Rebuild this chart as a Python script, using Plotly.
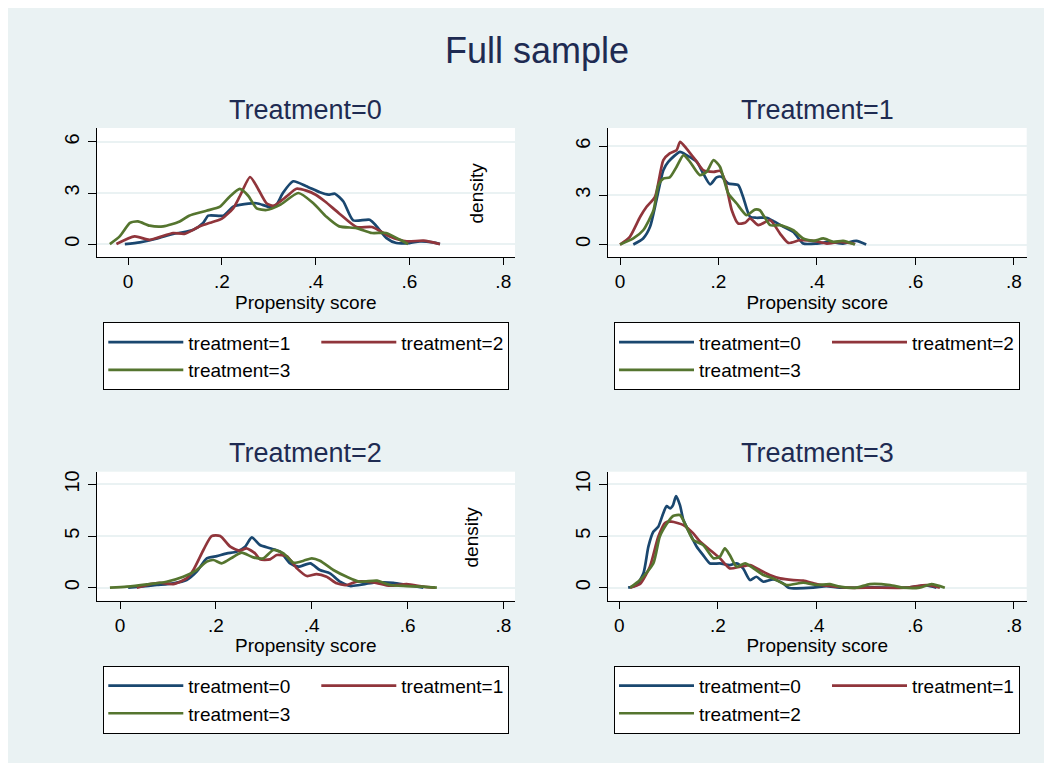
import plotly.graph_objects as go

FONT = "Liberation Sans, Arial, Helvetica, sans-serif"
NAVY = "#1a476f"
MAROON = "#90353b"
GREEN = "#55752f"
BG = "#eaf2f3"
TITLE_C = "#1e2b52"

main_title = "Full sample"
panel_titles = ["Treatment=0", "Treatment=1", "Treatment=2", "Treatment=3"]
x_title = "Propensity score"
y_title = "density"
x_tickvals = [0, 0.2, 0.4, 0.6, 0.8]
x_ticktext = ["0", ".2", ".4", ".6", ".8"]
y_tickvals_top = [0, 3, 6]
y_tickvals_bottom = [0, 5, 10]

# ---------------- Panel: Treatment=0 ----------------
p0_labels = ["treatment=1", "treatment=2", "treatment=3"]
p0_a_x = [-0.007, 0.025, 0.06, 0.096, 0.117, 0.139, 0.16, 0.171, 0.203, 0.224, 0.238, 0.274, 0.302, 0.316, 0.33, 0.352, 0.38, 0.409, 0.427, 0.441, 0.459, 0.48, 0.515, 0.53, 0.551, 0.572, 0.6, 0.622, 0.65, 0.665]
p0_a_y = [0, 0.1, 0.31, 0.6, 0.69, 0.84, 1.24, 1.67, 1.67, 2.2, 2.3, 2.4, 2.18, 2.3, 3.0, 3.69, 3.4, 3.04, 2.9, 2.96, 2.5, 1.39, 1.43, 1.04, 0.35, 0.06, 0.06, 0.16, 0.1, 0]
p0_b_x = [-0.025, 0.014, 0.046, 0.096, 0.12, 0.153, 0.18, 0.2, 0.224, 0.238, 0.26, 0.274, 0.295, 0.31, 0.338, 0.359, 0.38, 0.4, 0.42, 0.45, 0.487, 0.52, 0.558, 0.594, 0.63, 0.665]
p0_b_y = [0, 0.45, 0.25, 0.65, 0.6, 1.04, 1.3, 1.5, 2.1, 2.8, 3.94, 3.4, 2.4, 2.25, 2.8, 3.25, 3.14, 2.9, 2.5, 1.8, 1.0, 1.0, 0.45, 0.16, 0.2, 0]
p0_c_x = [-0.039, -0.018, 0.004, 0.021, 0.046, 0.075, 0.11, 0.13, 0.167, 0.196, 0.217, 0.238, 0.256, 0.274, 0.295, 0.324, 0.363, 0.395, 0.423, 0.45, 0.487, 0.52, 0.55, 0.58, 0.597]
p0_c_y = [0, 0.45, 1.24, 1.33, 1.08, 1.04, 1.33, 1.67, 1.96, 2.2, 2.8, 3.24, 2.84, 2.1, 2.0, 2.3, 3.0, 2.4, 1.6, 1.04, 0.94, 0.65, 0.65, 0.25, 0]

# ---------------- Panel: Treatment=1 ----------------
p1_labels = ["treatment=0", "treatment=2", "treatment=3"]
p1_a_x = [0.027, 0.047, 0.061, 0.074, 0.088, 0.098, 0.122, 0.135, 0.156, 0.169, 0.183, 0.196, 0.206, 0.22, 0.24, 0.25, 0.264, 0.277, 0.298, 0.311, 0.332, 0.352, 0.372, 0.4, 0.426, 0.453, 0.48, 0.5]
p1_a_y = [0, 0.37, 1.08, 2.7, 4.53, 5.04, 5.65, 5.45, 5.04, 4.33, 3.66, 4.09, 4.13, 3.72, 3.62, 2.9, 1.69, 1.63, 1.63, 1.44, 1.08, 0.77, 0.06, 0.06, 0.16, 0.06, 0.22, 0]
p1_b_x = [0.0, 0.02, 0.041, 0.054, 0.071, 0.088, 0.101, 0.115, 0.122, 0.135, 0.156, 0.169, 0.19, 0.203, 0.213, 0.227, 0.24, 0.254, 0.264, 0.281, 0.305, 0.325, 0.342, 0.365, 0.393, 0.42, 0.447, 0.474, 0.477]
p1_b_y = [0, 0.47, 1.69, 2.3, 2.9, 5.14, 5.55, 5.75, 6.26, 5.85, 5.04, 4.53, 4.43, 4.49, 3.92, 2.09, 1.28, 1.32, 1.59, 1.18, 1.48, 0.67, 0.1, 0.26, 0.22, 0.06, 0.16, 0.06, 0]
p1_c_x = [0.0, 0.027, 0.047, 0.068, 0.078, 0.088, 0.101, 0.115, 0.129, 0.142, 0.162, 0.176, 0.19, 0.203, 0.22, 0.237, 0.257, 0.274, 0.284, 0.305, 0.325, 0.352, 0.372, 0.393, 0.413, 0.433, 0.453, 0.477]
p1_c_y = [0, 0.37, 0.87, 2.09, 3.62, 4.02, 4.09, 4.74, 5.45, 5.04, 4.23, 4.43, 5.14, 4.74, 3.11, 2.5, 1.79, 2.13, 2.09, 1.18, 1.18, 0.87, 0.37, 0.22, 0.37, 0.16, 0.22, 0]

# ---------------- Panel: Treatment=2 ----------------
p2_labels = ["treatment=0", "treatment=1", "treatment=3"]
p2_a_x = [0.017, 0.042, 0.077, 0.111, 0.139, 0.16, 0.181, 0.202, 0.223, 0.243, 0.261, 0.275, 0.292, 0.313, 0.334, 0.355, 0.372, 0.397, 0.417, 0.438, 0.459, 0.48, 0.5, 0.529, 0.57, 0.598, 0.633]
p2_a_y = [0, 0.1, 0.26, 0.42, 0.74, 1.55, 2.84, 3.06, 3.32, 3.48, 3.97, 4.87, 4.13, 3.81, 3.48, 2.35, 2.03, 2.35, 1.71, 1.39, 0.58, 0.16, 0.26, 0.48, 0.48, 0.26, 0]
p2_b_x = [0.035, 0.063, 0.083, 0.111, 0.139, 0.153, 0.174, 0.191, 0.209, 0.23, 0.25, 0.264, 0.282, 0.292, 0.313, 0.327, 0.348, 0.369, 0.39, 0.41, 0.431, 0.452, 0.473, 0.494, 0.529, 0.563, 0.598, 0.633, 0.657]
p2_b_y = [0, 0.35, 0.48, 0.35, 0.9, 1.71, 3.65, 5.0, 5.0, 3.97, 3.58, 3.81, 3.32, 2.74, 2.74, 3.16, 3.06, 1.87, 1.13, 1.32, 1.06, 0.42, 0.26, 0.58, 0.52, 0.19, 0.35, 0.1, 0]
p2_c_x = [-0.021, 0.014, 0.056, 0.097, 0.132, 0.16, 0.181, 0.195, 0.212, 0.237, 0.254, 0.278, 0.299, 0.32, 0.341, 0.362, 0.383, 0.4, 0.417, 0.445, 0.473, 0.5, 0.536, 0.563, 0.598, 0.633, 0.661]
p2_c_y = [0, 0.1, 0.32, 0.58, 1.06, 1.71, 2.52, 2.68, 2.35, 3.0, 3.39, 2.94, 2.84, 3.65, 3.32, 2.42, 2.61, 2.84, 2.61, 1.71, 1.06, 0.58, 0.68, 0.26, 0.16, 0.1, 0]

# ---------------- Panel: Treatment=3 ----------------
p3_labels = ["treatment=0", "treatment=1", "treatment=2"]
p3_a_x = [0.018, 0.035, 0.049, 0.059, 0.069, 0.079, 0.089, 0.096, 0.103, 0.109, 0.115, 0.123, 0.13, 0.143, 0.157, 0.17, 0.184, 0.204, 0.224, 0.238, 0.251, 0.265, 0.278, 0.292, 0.312, 0.332, 0.343, 0.393, 0.42, 0.447, 0.515, 0.582, 0.623, 0.643]
p3_a_y = [0, 0.26, 1.39, 3.97, 5.42, 5.9, 7.19, 7.9, 7.68, 8.0, 8.87, 8.0, 6.55, 5.26, 3.97, 3.16, 2.35, 2.35, 2.19, 2.35, 1.87, 0.74, 1.06, 0.58, 0.81, 0.42, 0, 0, 0.16, 0, 0.03, 0, 0.23, 0]
p3_b_x = [0.022, 0.042, 0.062, 0.079, 0.093, 0.106, 0.13, 0.15, 0.164, 0.184, 0.204, 0.224, 0.245, 0.265, 0.285, 0.305, 0.326, 0.353, 0.373, 0.4, 0.427, 0.461, 0.515, 0.582, 0.623, 0.65]
p3_b_y = [0, 0.35, 2.03, 4.94, 6.29, 6.39, 6.06, 5.26, 4.45, 3.65, 2.84, 1.87, 2.03, 2.19, 1.71, 1.23, 0.9, 0.74, 0.68, 0.35, 0.16, 0, 0, 0, 0.26, 0]
p3_c_x = [0.022, 0.042, 0.069, 0.082, 0.096, 0.109, 0.123, 0.136, 0.15, 0.17, 0.191, 0.204, 0.214, 0.224, 0.238, 0.255, 0.272, 0.292, 0.312, 0.339, 0.373, 0.4, 0.427, 0.447, 0.481, 0.508, 0.549, 0.576, 0.609, 0.633, 0.66]
p3_c_y = [0, 0.74, 2.35, 4.94, 6.16, 6.94, 7.03, 5.9, 4.61, 4.13, 2.84, 3.0, 3.81, 3.16, 2.03, 2.35, 1.87, 1.23, 0.9, 0.26, 0.48, 0.26, 0.35, 0.1, 0, 0.35, 0.26, 0, 0, 0.35, 0]

panels = [
    dict(labels=p0_labels, xs=[p0_a_x, p0_b_x, p0_c_x], ys=[p0_a_y, p0_b_y, p0_c_y]),
    dict(labels=p1_labels, xs=[p1_a_x, p1_b_x, p1_c_x], ys=[p1_a_y, p1_b_y, p1_c_y]),
    dict(labels=p2_labels, xs=[p2_a_x, p2_b_x, p2_c_x], ys=[p2_a_y, p2_b_y, p2_c_y]),
    dict(labels=p3_labels, xs=[p3_a_x, p3_b_x, p3_c_x], ys=[p3_a_y, p3_b_y, p3_c_y]),
]

# ---------------- layout geometry (screen pixels; page has an 8px body margin) ----------------
W, H = 1036, 755
OFF = 8
px_x = lambda p: (p - OFF) / W
px_y = lambda p: 1 - (p - OFF) / H

x_domains = [(96.7, 515.0), (607.7, 1026.7), (96.7, 515.0), (607.7, 1026.7)]
y_domains = [(128.0, 257.0), (128.0, 257.0), (471.7, 600.7), (471.7, 600.7)]
x_ranges = [[-0.067, 0.825], [-0.025, 0.826], [-0.0486, 0.824], [-0.0235, 0.826]]
y_ranges = [[-0.76, 6.82], [-0.76, 7.1], [-1.26, 11.23], [-1.26, 11.23]]
y_ticks = [y_tickvals_top, y_tickvals_top, y_tickvals_bottom, y_tickvals_bottom]
legend_pos = [(103.3, 322.3), (614.0, 322.3), (103.3, 665.7), (614.0, 665.7)]
title_y = [110, 110, 453, 453]
density_pos = [(475.5, 193.0), (470.5, 537.0)]

colors = [NAVY, MAROON, GREEN]
groups = ["a", "b", "a"]

fig = go.Figure()
layout = dict(
    width=W, height=H,
    margin=dict(l=0, r=0, t=0, b=0, autoexpand=False),
    paper_bgcolor=BG, plot_bgcolor="white",
    font=dict(family=FONT, size=19, color="black"),
    showlegend=True,
)

annotations = []
for i, p in enumerate(panels):
    k = i + 1
    xa = "xaxis" if k == 1 else f"xaxis{k}"
    ya = "yaxis" if k == 1 else f"yaxis{k}"
    lg = "legend" if k == 1 else f"legend{k}"
    for j in range(3):
        tr = dict(
            x=p["xs"][j], y=p["ys"][j], mode="lines", name=p["labels"][j],
            line=dict(color=colors[j], width=2.7, shape="spline", smoothing=0.6),
            xaxis="x" if k == 1 else f"x{k}", yaxis="y" if k == 1 else f"y{k}",
            legend=lg, legendgroup=f"{groups[j]}{k}", hoverinfo="skip",
        )
        if j == 1:
            tr["legendwidth"] = 102
        fig.add_trace(go.Scatter(**tr))

    layout[xa] = dict(
        domain=[px_x(x_domains[i][0]), px_x(x_domains[i][1])],
        range=x_ranges[i], anchor="y" if k == 1 else f"y{k}",
        tickvals=x_tickvals, ticktext=x_ticktext,
        showline=True, linecolor="black", linewidth=1,
        ticks="outside", ticklen=7, tickcolor="black", tickwidth=1,
        showgrid=False, zeroline=False,
        tickfont=dict(size=19, family=FONT, color="black"),
        title=dict(text=x_title, font=dict(size=19, family=FONT, color="black"), standoff=0),
    )
    layout[ya] = dict(
        domain=[px_y(y_domains[i][1]), px_y(y_domains[i][0])],
        range=y_ranges[i], anchor="x" if k == 1 else f"x{k}",
        tickvals=y_ticks[i], tickangle=-90,
        showline=True, linecolor="black", linewidth=1,
        ticks="outside", ticklen=8, tickcolor="black", tickwidth=1,
        ticklabelstandoff=1,
        showgrid=True, gridcolor=BG, gridwidth=1.5, zeroline=False,
        tickfont=dict(size=20, family=FONT, color="black"),
    )
    layout[lg] = dict(
        x=px_x(legend_pos[i][0]), y=px_y(legend_pos[i][1]),
        xanchor="left", yanchor="top",
        orientation="h", traceorder="grouped",
        entrywidth=123, itemwidth=75, tracegroupgap=0,
        bgcolor="white", bordercolor="black", borderwidth=1,
        font=dict(size=19, family=FONT, color="black"),
    )
    annotations.append(dict(
        text=panel_titles[i], xref="paper", yref="paper",
        x=px_x(sum(x_domains[i]) / 2), y=px_y(title_y[i]),
        xanchor="center", yanchor="middle", showarrow=False,
        font=dict(size=27, family=FONT, color=TITLE_C),
    ))

for (dx, dy) in density_pos:
    annotations.append(dict(
        text=y_title, xref="paper", yref="paper", x=px_x(dx), y=px_y(dy),
        xanchor="center", yanchor="middle", textangle=-90, showarrow=False,
        font=dict(size=19, family=FONT, color="black"),
    ))

annotations.append(dict(
    text=main_title, xref="paper", yref="paper", x=px_x(537), y=px_y(50),
    xanchor="center", yanchor="middle", showarrow=False,
    font=dict(size=36, family=FONT, color=TITLE_C),
))

layout["annotations"] = annotations

fig.update_layout(**layout)
fig.write_html("out.html")
